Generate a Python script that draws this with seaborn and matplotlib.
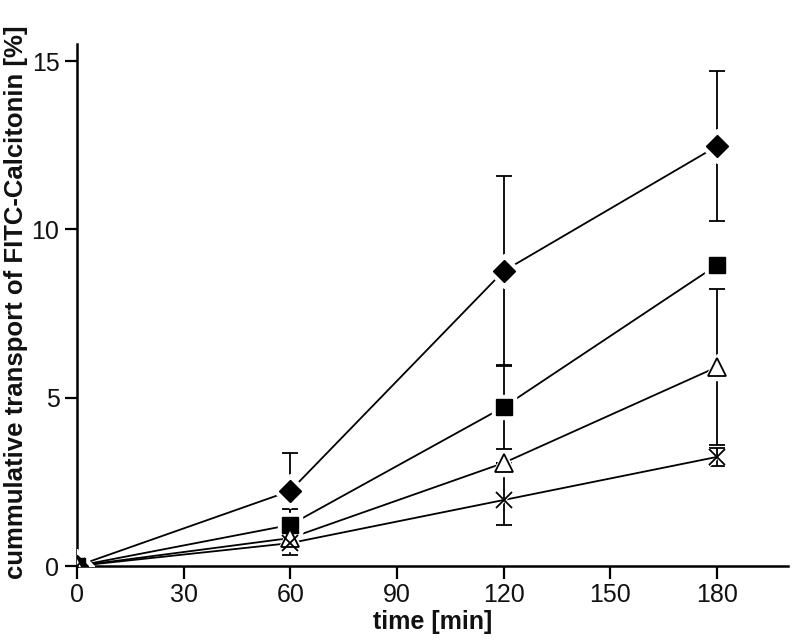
"""Cumulative transport of FITC-Calcitonin over time."""

import matplotlib
matplotlib.use("Agg")
import matplotlib.pyplot as plt
import numpy as np
import pandas as pd
import seaborn as sns

time_min = [0, 60, 120, 180]

diamond_mean = [0.0, 2.23, 8.76, 12.47]
diamond_sd = [0.0, 1.13, 2.82, 2.23]
square_mean = [0.0, 1.22, 4.72, 8.94]
square_sd = [0.0, 0.47, 1.25, 0.0]
triangle_mean = [0.0, 0.83, 3.06, 5.91]
triangle_sd = [0.0, 0.0, 0.0, 2.32]
cross_mean = [0.0, 0.68, 1.96, 3.24]
cross_sd = [0.0, 0.35, 0.74, 0.26]

series = {
    "diamond": (diamond_mean, diamond_sd, dict(marker="D", ms=11, mfc="black", mec="black")),
    "square": (square_mean, square_sd, dict(marker="s", ms=11, mfc="black", mec="black")),
    "triangle": (triangle_mean, triangle_sd, dict(marker="^", ms=13, mfc="white", mec="black", mew=1.3)),
    "cross": (cross_mean, cross_sd, dict(marker="x", ms=12, mfc="black", mec="black", mew=1.3)),
}

sns.set_style("ticks")
plt.rcParams["font.family"] = ["Liberation Sans", "DejaVu Sans"]

fig = plt.figure(figsize=(7.92, 6.41), dpi=100)
ax = fig.add_axes([0.097, 0.117, 0.898, 0.814])

rows = []
for name, (mean, sd, _) in series.items():
    for t, m in zip(time_min, mean):
        rows.append({"time": t, "value": m, "series": name})
df = pd.DataFrame(rows)

sns.lineplot(data=df, x="time", y="value", units="series", estimator=None,
             color="black", lw=1.3, ax=ax, legend=False, zorder=2)

for name, (mean, sd, style) in series.items():
    ax.errorbar(time_min, mean, yerr=sd, fmt="none", ecolor="black",
                elinewidth=1.3, capsize=6, capthick=1.3, zorder=3)
    # white halo to give the line gaps round the markers
    ax.plot(time_min, mean, linestyle="none", marker=style["marker"],
            ms=style["ms"] + 6, mfc="white", mec="white", zorder=4)
    ax.plot(time_min, mean, linestyle="none", zorder=5, **style)

ax.set_xlim(0, 200)
ax.set_ylim(0, 15.5)
ax.set_xticks([0, 30, 60, 90, 120, 150, 180])
ax.set_yticks([0, 5, 10, 15])
ax.tick_params(axis="both", labelsize=18, length=9, width=1.6, direction="out",
               colors="black", labelcolor="#111111")
for side in ["top", "right"]:
    ax.spines[side].set_visible(False)
for side in ["left", "bottom"]:
    ax.spines[side].set_linewidth(1.8)
    ax.spines[side].set_color("black")

ax.set_xlabel("time [min]", fontsize=18, fontweight="bold", color="#111111")
ax.set_ylabel("cummulative transport of FITC-Calcitonin [%]", fontsize=18.5,
              fontweight="bold", color="#111111")
ax.yaxis.set_label_coords(-0.069, 0.505)
ax.xaxis.set_label_coords(0.5, -0.085)

fig.savefig("out.png", dpi=100)
